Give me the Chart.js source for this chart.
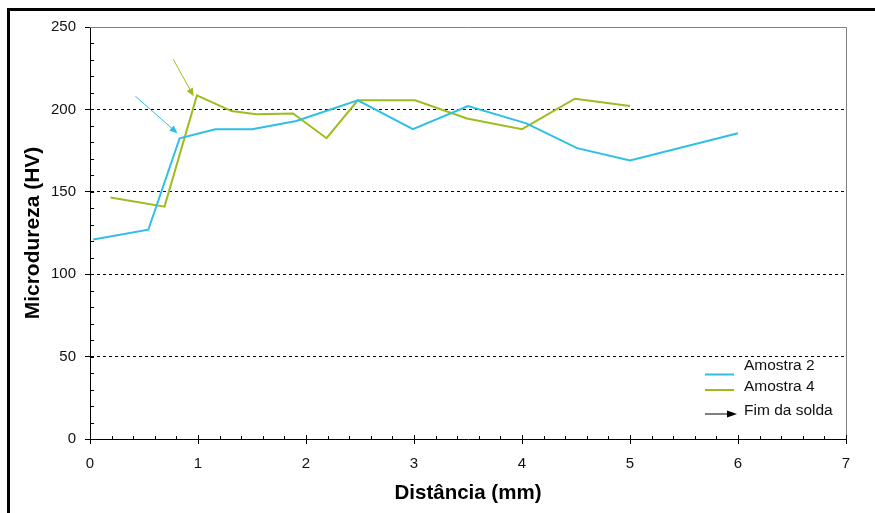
<!DOCTYPE html>
<html lang="pt">
<head>
<meta charset="UTF-8">
<title>Microdureza</title>
<style>
 body{margin:0;background:#fff;}
</style>
</head>
<body>
<canvas id="myChart" width="875" height="513"></canvas>
<script src="https://cdn.jsdelivr.net/npm/chart.js@4.4.0/dist/chart.umd.min.js"></script>
<script>
var amostra2X = [0.03, 0.54, 0.83, 1.16, 1.5, 1.91, 2.48, 2.99, 3.5, 4.04, 4.51, 5.0, 6.0];
var amostra2Y = [121, 127, 182.5, 188, 188, 193, 205.5, 188, 202, 191.5, 176.5, 169, 185.5];
var amostra4X = [0.19, 0.69, 0.99, 1.31, 1.54, 1.88, 2.19, 2.48, 3.01, 3.49, 4.0, 4.49, 5.0];
var amostra4Y = [146.5, 141, 208.5, 199, 197, 197.5, 182.5, 205.5, 205.5, 194.5, 188, 206.5, 202];
// setas "Fim da solda": [x inicio, y inicio, x fim, y fim]
var seta2 = [0.42, 208, 0.81, 185.5];
var seta4 = [0.77, 230.5, 0.96, 208];
var xTicks = [0, 1, 2, 3, 4, 5, 6, 7];
var yTicks = [0, 50, 100, 150, 200, 250];
var legendLabels = ['Amostra 2', 'Amostra 4', 'Fim da solda'];

var cor2 = '#2ebfe6';
var cor4 = '#9dbd1e';

function toPts(xs, ys) {
  return xs.map(function (x, i) { return {x: x, y: ys[i]}; });
}

function drawArrow(ctx, x0, y0, x1, y1, color, len, w) {
  var a = Math.atan2(y1 - y0, x1 - x0);
  ctx.save();
  ctx.strokeStyle = color;
  ctx.fillStyle = color;
  ctx.lineWidth = 1;
  ctx.beginPath();
  ctx.moveTo(x0, y0);
  ctx.lineTo(x1 - Math.cos(a) * len * 0.8, y1 - Math.sin(a) * len * 0.8);
  ctx.stroke();
  ctx.beginPath();
  ctx.moveTo(x1, y1);
  ctx.lineTo(x1 - Math.cos(a) * len + Math.sin(a) * w, y1 - Math.sin(a) * len - Math.cos(a) * w);
  ctx.lineTo(x1 - Math.cos(a) * len - Math.sin(a) * w, y1 - Math.sin(a) * len + Math.cos(a) * w);
  ctx.closePath();
  ctx.fill();
  ctx.restore();
}

var extras = {
  id: 'extras',
  beforeDraw: function (chart) {
    var ctx = chart.ctx;
    ctx.save();
    ctx.fillStyle = '#000';
    ctx.fillRect(7, 8, 868, 3);
    ctx.fillRect(7, 8, 3, 505);
    ctx.restore();
  },
  afterDraw: function (chart) {
    var ctx = chart.ctx, a = chart.chartArea;
    var xs = chart.scales.x, ys = chart.scales.y;
    ctx.save();
    // moldura cinza
    ctx.strokeStyle = '#808080';
    ctx.lineWidth = 1;
    ctx.beginPath();
    ctx.moveTo(a.left, a.top + 0.5);
    ctx.lineTo(a.right + 0.5, a.top + 0.5);
    ctx.lineTo(a.right + 0.5, a.bottom);
    ctx.stroke();
    // marcas menores
    ctx.strokeStyle = '#000';
    ctx.beginPath();
    for (var v = 10; v < 250; v += 10) {
      var py = Math.round(ys.getPixelForValue(v)) + 0.5;
      ctx.moveTo(a.left, py);
      ctx.lineTo(a.left + 4, py);
    }
    for (var k = 1; k <= 35; k++) {
      var px = Math.round(xs.getPixelForValue(k * 0.2)) + 0.5;
      ctx.moveTo(px, a.bottom);
      ctx.lineTo(px, a.bottom - (k % 5 === 0 ? 4 : 3));
    }
    ctx.stroke();
    ctx.restore();

    // setas
    drawArrow(ctx, xs.getPixelForValue(seta2[0]), ys.getPixelForValue(seta2[1]),
      xs.getPixelForValue(seta2[2]), ys.getPixelForValue(seta2[3]), cor2, 8, 3.5);
    drawArrow(ctx, xs.getPixelForValue(seta4[0]), ys.getPixelForValue(seta4[1]),
      xs.getPixelForValue(seta4[2]), ys.getPixelForValue(seta4[3]), cor4, 8, 3.5);

    // legenda
    var lx = a.right - 141, tx = a.right - 102;
    var lineY = [a.bottom - 64.5, a.bottom - 49, a.bottom - 25];
    var textY = [a.bottom - 73, a.bottom - 52.5, a.bottom - 28.5];
    ctx.save();
    ctx.lineWidth = 2;
    ctx.strokeStyle = cor2;
    ctx.beginPath(); ctx.moveTo(lx, lineY[0]); ctx.lineTo(lx + 29, lineY[0]); ctx.stroke();
    ctx.strokeStyle = cor4;
    ctx.beginPath(); ctx.moveTo(lx, lineY[1]); ctx.lineTo(lx + 29, lineY[1]); ctx.stroke();
    ctx.restore();
    drawArrow(ctx, lx, lineY[2], lx + 32, lineY[2], '#000', 10, 3.5);
    ctx.save();
    ctx.fillStyle = '#111';
    ctx.font = "15.5px 'Liberation Sans', Arial, sans-serif";
    ctx.textBaseline = 'middle';
    legendLabels.forEach(function (t, i) { ctx.fillText(t, tx, textY[i]); });
    ctx.restore();
  }
};

Chart.defaults.font.family = "'Liberation Sans', Arial, sans-serif";
Chart.defaults.color = '#000';

var ctx = document.getElementById('myChart');
var lineChart = new Chart(ctx, {
  type: 'scatter',
  data: {
    datasets: [{
      label: legendLabels[0],
      data: toPts(amostra2X, amostra2Y),
      showLine: true,
      borderColor: cor2,
      backgroundColor: cor2,
      borderWidth: 2,
      pointRadius: 0,
      tension: 0
    }, {
      label: legendLabels[1],
      data: toPts(amostra4X, amostra4Y),
      showLine: true,
      borderColor: cor4,
      backgroundColor: cor4,
      borderWidth: 2,
      pointRadius: 0,
      tension: 0
    }]
  },
  options: {
    responsive: false,
    animation: false,
    layout: {padding: {left: 0, top: 27, right: 29, bottom: 0}},
    plugins: {legend: {display: false}, tooltip: {enabled: false}},
    scales: {
      x: {
        type: 'linear',
        min: 0, max: 7,
        afterBuildTicks: function (s) { s.ticks = xTicks.map(function (v) { return {value: v}; }); },
        afterFit: function (s) { s.height = 74; },
        grid: {drawOnChartArea: false, tickLength: 5, tickColor: '#000'},
        border: {color: '#000', width: 1},
        ticks: {padding: 11, font: {size: 15}, color: '#111'},
        title: {display: true, text: 'Distância (mm)', font: {size: 20.5, weight: 'bold'}, padding: {bottom: 7}}
      },
      y: {
        min: 0, max: 250,
        afterBuildTicks: function (s) { s.ticks = yTicks.map(function (v) { return {value: v}; }); },
        afterFit: function (s) { s.width = 90; },
        grid: {
          color: function (c) { return (c.tick && c.tick.value > 0 && c.tick.value < 250) ? '#000' : 'rgba(0,0,0,0)'; },
          tickLength: 5,
          tickColor: '#000'
        },
        border: {color: '#000', width: 1, dash: [3, 3]},
        ticks: {padding: 9, font: {size: 15}, color: '#111'},
        title: {display: true, text: 'Microdureza (HV)', font: {size: 21, weight: 'bold'}, padding: {top: 21}}
      }
    }
  },
  plugins: [extras]
});
</script>
</body>
</html>
